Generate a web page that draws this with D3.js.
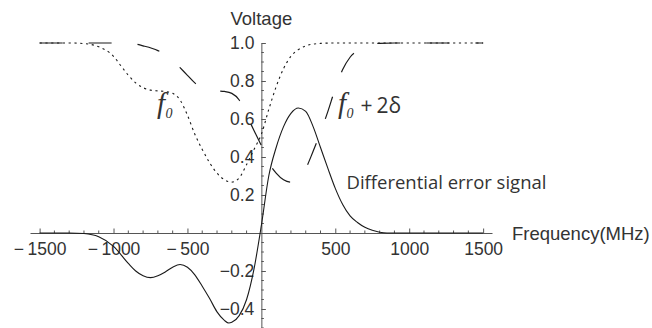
<!DOCTYPE html>
<html><head><meta charset="utf-8">
<script src="https://cdn.jsdelivr.net/npm/d3@7"></script>
<style>
html,body{margin:0;padding:0;background:#fff;}
svg{display:block;}
</style></head>
<body>
<svg id="c" width="652" height="328"></svg>
<script>
// ---- data (MHz, voltage) ----
const f0Freq =   [-1500,-1300,-1200,-1100,-1000,-950,-900,-850,-800,-750,-700,-650,-600,-550,-500,-450,-400,-350,-300,-250,-200,-150,-100,-50,0,50,100,150,200,250,300,400,500,1500];
const f0Volt =   [1.0,1.0,0.997,0.98,0.93,0.88,0.83,0.79,0.765,0.752,0.748,0.745,0.735,0.70,0.62,0.52,0.44,0.37,0.315,0.28,0.268,0.29,0.36,0.44,0.52,0.65,0.77,0.865,0.93,0.965,0.985,0.998,1.0,1.0];

const f2Freq =   [-1500,-900,-800,-700,-600,-550,-500,-450,-400,-350,-300,-250,-200,-150,-100,-50,0,50,100,150,200,250,300,350,400,450,500,550,600,650,700,800,900,1500];
const f2Volt =   [1.0,1.0,0.985,0.96,0.91,0.87,0.83,0.79,0.765,0.752,0.748,0.745,0.735,0.70,0.62,0.54,0.46,0.37,0.315,0.28,0.268,0.29,0.34,0.43,0.53,0.64,0.76,0.86,0.925,0.96,0.985,0.998,1.0,1.0];

const dFreq =    [-1500,-1300,-1200,-1100,-1000,-900,-850,-800,-750,-700,-650,-600,-550,-500,-450,-400,-350,-300,-250,-220,-200,-150,-100,-50,0,50,100,150,200,250,300,350,400,450,500,550,600,650,700,750,800,850,1500];
const dVolt =    [0,0,-0.003,-0.02,-0.07,-0.16,-0.2,-0.225,-0.235,-0.225,-0.205,-0.18,-0.166,-0.18,-0.22,-0.28,-0.345,-0.415,-0.46,-0.474,-0.47,-0.435,-0.35,-0.19,0.04,0.3,0.45,0.56,0.63,0.658,0.64,0.56,0.45,0.34,0.235,0.15,0.09,0.055,0.03,0.014,0.004,0,0];

const xMajor = [-1500,-1000,-500,500,1000,1500];
const yMajor = [-0.4,-0.2,0.2,0.4,0.6,0.8,1.0];
const xMinor = d3.range(-1500,1501,100).filter(v=>v!==0 && !xMajor.includes(v));
const yMinor = d3.range(-10,21,1).map(i=>+(i*0.05).toFixed(2)).filter(v=>v!==0 && !yMajor.some(m=>Math.abs(m-v)<1e-9));

const svg = d3.select("#c");
const x = d3.scaleLinear().domain([-1565,1560]).range([30,492]);
const y = d3.scaleLinear().domain([-0.5,1.0]).range([328,43]);

const axisCol = "#555", textCol = "#333", lineCol = "#1a1a1a";
const minus = s => s.replace("-", "\u2212\u2009");

// X axis
const gx = svg.append("g").attr("transform",`translate(0,${y(0)})`);
gx.call(d3.axisBottom(x).tickValues(xMajor).tickSizeInner(-4.5).tickSizeOuter(0).tickPadding(10)
   .tickFormat(d=>minus(String(d))));
gx.append("g").selectAll("line").data(xMinor).join("line")
  .attr("x1",d=>x(d)).attr("x2",d=>x(d)).attr("y1",0).attr("y2",-2.5);
// Y axis
const gy = svg.append("g").attr("transform",`translate(${x(0)},0)`);
gy.call(d3.axisLeft(y).tickValues(yMajor).tickSizeInner(-4.5).tickSizeOuter(0).tickPadding(7)
   .tickFormat(d=>minus(d3.format(".1f")(d))));
gy.append("g").selectAll("line").data(yMinor).join("line")
  .attr("y1",d=>y(d)).attr("y2",d=>y(d)).attr("x1",0).attr("x2",2.5);

[gx,gy].forEach(g=>{
  g.selectAll("path.domain").attr("stroke",axisCol).attr("stroke-width",1);
  g.selectAll("line").attr("stroke",axisCol).attr("stroke-width",1);
  g.selectAll("text").attr("fill",textCol).attr("font-family","'Liberation Sans', Arial, sans-serif").attr("font-size",17.5);
});

// curves
const line = (fx,fy)=> d3.line().x((d,i)=>x(fx[i])).y((d,i)=>y(fy[i])).curve(d3.curveMonotoneX)(fx);
svg.append("path").attr("d",line(f0Freq,f0Volt)).attr("fill","none").attr("stroke",lineCol)
  .attr("stroke-width",1.1).attr("stroke-dasharray","2.2,3.6");
svg.append("path").attr("d",line(f2Freq,f2Volt)).attr("fill","none").attr("stroke",lineCol)
  .attr("stroke-width",1.2).attr("stroke-dasharray","23,26");
svg.append("path").attr("d",line(dFreq,dVolt)).attr("fill","none").attr("stroke",lineCol)
  .attr("stroke-width",1.1);

// axis titles
svg.append("text").attr("x",x(0)).attr("y",25).attr("text-anchor","middle")
  .attr("font-family","'Liberation Sans', Arial, sans-serif").attr("font-size",18.5).attr("fill",textCol).text("Voltage");
svg.append("text").attr("x",512).attr("y",240)
  .attr("font-family","'Liberation Sans', Arial, sans-serif").attr("font-size",18.5).attr("fill",textCol).text("Frequency(MHz)");

// annotations
const serif = "'Liberation Serif','Times New Roman',serif";
const sans = "'Open Sans','Noto Sans',sans-serif";
function fLabel(px, py){
  const t = svg.append("text").attr("x",px).attr("y",py).attr("fill",textCol);
  t.append("tspan").attr("font-family",serif).attr("font-style","italic").attr("font-size",29).text("f");
  t.append("tspan").attr("font-family",serif).attr("font-style","italic").attr("font-size",14).attr("dx",0.5).attr("dy",5).text("0");
  return t;
}
fLabel(157,113);
const t2 = fLabel(338,113);
t2.append("tspan").attr("font-family",sans).attr("font-size",21).attr("dx",7).attr("dy",-5).text("+");
t2.append("tspan").attr("font-family",sans).attr("font-size",21).attr("dx",4).text("2δ");

const de = svg.append("text").attr("x",346.5).attr("y",189).attr("fill",textCol)
  .attr("font-family",sans).attr("font-size",19).text("Differential error signal");
const w = de.node().getComputedTextLength();
de.attr("font-size", 19*200/w);
</script>
</body></html>
